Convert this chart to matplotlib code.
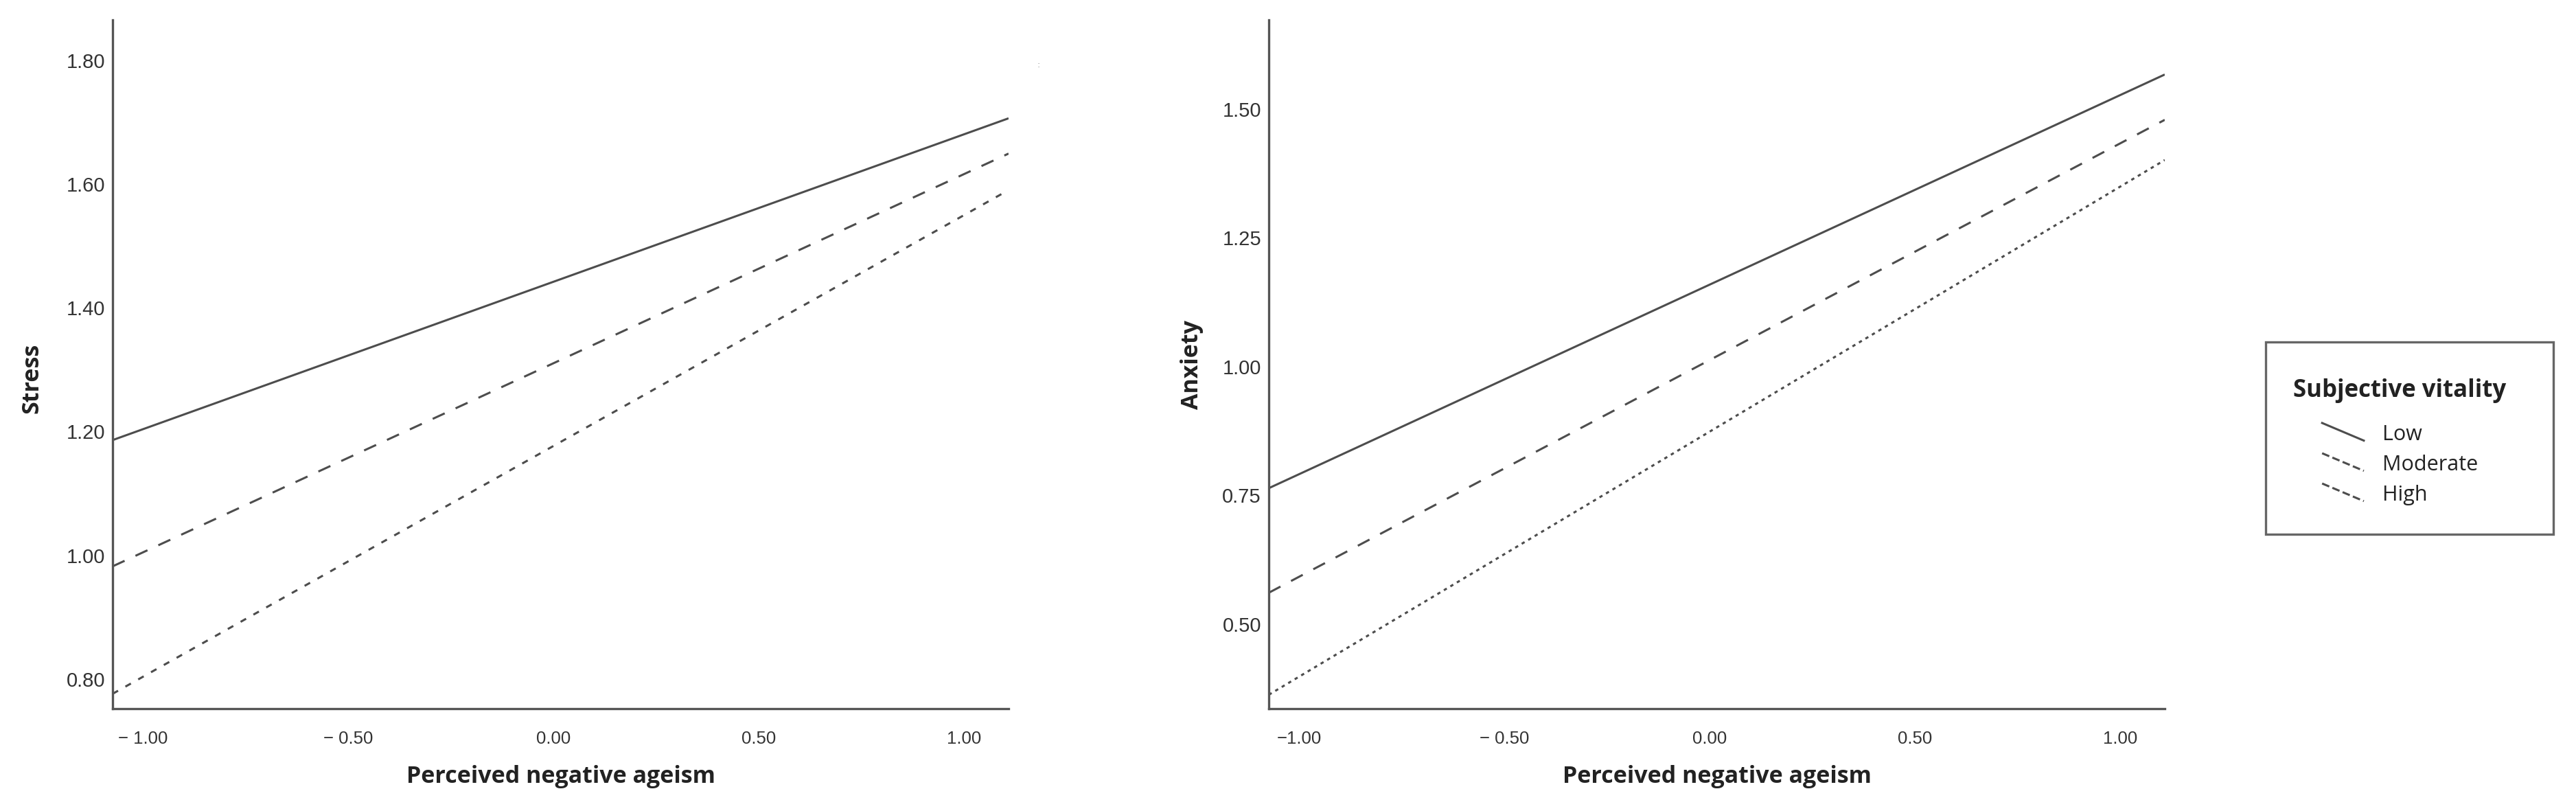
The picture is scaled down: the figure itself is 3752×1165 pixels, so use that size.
import matplotlib
matplotlib.use("Agg")
import matplotlib.pyplot as plt
from matplotlib.lines import Line2D
from matplotlib.patches import Rectangle
from matplotlib.legend_handler import HandlerBase

# ---------------- data ----------------
x_range = [-1.074, 1.109]
x_ticks = [-1.0, -0.5, 0.0, 0.5, 1.0]
x_ticklabels_left = ["\u2212 1.00", "\u2212 0.50", "0.00", "0.50", "1.00"]
x_ticklabels_right = ["\u22121.00", "\u2212 0.50", "0.00", "0.50", "1.00"]

groups = ["Low", "Moderate", "High"]

stress_low = [1.186, 1.706]
stress_moderate = [0.982, 1.649]
stress_high = [0.776, 1.590]
stress_ticks = [0.80, 1.00, 1.20, 1.40, 1.60, 1.80]
stress_ticklabels = ["0.80", "1.00", "1.20", "1.40", "1.60", "1.80"]

anxiety_low = [0.764, 1.567]
anxiety_moderate = [0.561, 1.479]
anxiety_high = [0.363, 1.401]
anxiety_ticks = [0.50, 0.75, 1.00, 1.25, 1.50]
anxiety_ticklabels = ["0.50", "0.75", "1.00", "1.25", "1.50"]

x_label = "Perceived negative ageism"
legend_title = "Subjective vitality"

# ---------------- style ----------------
W, H = 3752, 1165
DPI = 100
LINE_C = "#4d4d4d"
AX_C = "#555555"
TXT_C = "#222222"
LW = 2.2

styles_left = ["-", (0, (6.3, 5.7)), (0, (3.0, 4.0))]
styles_right = ["-", (0, (6.3, 5.7)), (0, (1.6, 2.0))]

fig = plt.figure(figsize=(W / DPI, H / DPI), dpi=DPI)
fig.patch.set_facecolor("white")

def px_axes(x0, x1, ytop, ybot):
    return fig.add_axes([x0 / W, 1 - ybot / H, (x1 - x0) / W, (ybot - ytop) / H])

ax1 = px_axes(164, 1469, 29, 1032)
ax2 = px_axes(1848, 3153, 29, 1032)

panels = [
    (ax1, [stress_low, stress_moderate, stress_high], (0.752, 1.865), stress_ticks,
     stress_ticklabels, "Stress", x_ticklabels_left, styles_left, (-0.077, 0.48)),
    (ax2, [anxiety_low, anxiety_moderate, anxiety_high], (0.336, 1.673), anxiety_ticks,
     anxiety_ticklabels, "Anxiety", x_ticklabels_right, styles_right, (-0.073, 0.50)),
]

handles = []
for ax, series, ylim, yt, ytl, ylab, xtl, styles, ylc in panels:
    for vals, ls, g in zip(series, styles, groups):
        ax.plot(x_range, vals, color=LINE_C, lw=LW, ls=ls, solid_capstyle="butt",
                dash_capstyle="butt", label=g)
    ax.set_xlim(x_range)
    ax.set_ylim(ylim)
    ax.set_xticks(x_ticks)
    ax.set_xticklabels(xtl, fontfamily="Liberation Sans", fontsize=18.5, color="#333333")
    ax.set_yticks(yt)
    ax.set_yticklabels(ytl, fontfamily="Liberation Sans", fontsize=21, color="#333333")
    ax.tick_params(axis="x", length=0, pad=23)
    ax.tick_params(axis="y", length=0, pad=8)
    for s in ["top", "right"]:
        ax.spines[s].set_visible(False)
    for s in ["left", "bottom"]:
        ax.spines[s].set_color(AX_C)
        ax.spines[s].set_linewidth(2.4)
    ax.set_xlabel(x_label, fontfamily="Open Sans", fontweight="bold", fontsize=24.5, color=TXT_C)
    ax.xaxis.set_label_coords(0.5, -0.082)
    ax.set_ylabel(ylab, fontfamily="Open Sans", fontweight="bold", fontsize=24.5, color=TXT_C)
    ax.yaxis.set_label_coords(*ylc)

# legend handles (left-panel styles)
for ls, g in zip(styles_left, groups):
    handles.append(Line2D([], [], color=LINE_C, lw=LW, ls=ls, label=g))


class SlantHandler(HandlerBase):
    def create_artists(self, legend, orig_handle, xdescent, ydescent, width, height,
                       fontsize, trans):
        x0 = -xdescent + width * 0.41
        x1 = -xdescent + width
        y0 = -ydescent + height * 1.15
        y1 = -ydescent - height * 0.05
        ln = Line2D([x0, x1], [y0, y1], color=orig_handle.get_color(),
                    lw=orig_handle.get_linewidth(), ls=orig_handle.get_linestyle(),
                    dash_capstyle="butt")
        ln.set_transform(trans)
        return [ln]


leg = fig.legend(handles=handles, labels=groups, title=legend_title,
                 loc="upper left", bbox_to_anchor=(3340 / W, 1 - 551 / H),
                 frameon=False, borderpad=0, borderaxespad=0,
                 handler_map={Line2D: SlantHandler()},
                 handlelength=3.37, handleheight=0.7, handletextpad=0.88,
                 labelspacing=0.46, alignment="left",
                 prop={"family": "Open Sans", "size": 22},
                 title_fontproperties={"family": "Open Sans", "weight": "bold", "size": 25})
for t in leg.get_texts():
    t.set_color(TXT_C)
leg.get_title().set_color(TXT_C)
leg._legend_box.sep = 22

fig.patches.append(Rectangle((3300 / W, 1 - 778 / H), (3719 - 3300) / W, (778 - 498) / H,
                             transform=fig.transFigure, fill=False, edgecolor="#666666",
                             linewidth=2.4))

# small stray mark near top right of the left panel
fig.text(1513 / W, 1 - 95 / H, ":", fontsize=9, color="#999999", ha="center", va="center")

fig.savefig("out.png", dpi=DPI, facecolor="white")
